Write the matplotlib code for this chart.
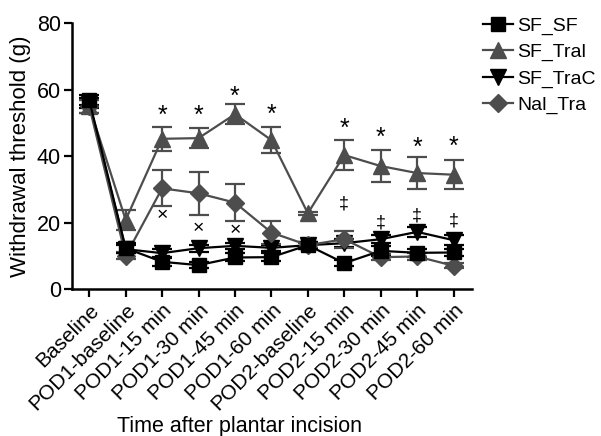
import matplotlib.pyplot as plt
import matplotlib.transforms as mtransforms
import numpy as np

plt.rcParams['font.family'] = ['Liberation Sans', 'DejaVu Sans']

labels = ['Baseline', 'POD1-baseline', 'POD1-15 min', 'POD1-30 min', 'POD1-45 min',
          'POD1-60 min', 'POD2-baseline', 'POD2-15 min', 'POD2-30 min', 'POD2-45 min',
          'POD2-60 min']

sf_sf = [56.8, 12.3, 8.2, 7.2, 9.5, 9.6, 13.2, 7.8, 11.5, 10.9, 11.0]
sf_sf_err = [1.5, 1.5, 1.2, 1.0, 1.2, 1.2, 1.0, 1.0, 1.5, 1.2, 1.2]

sf_tral = [55.0, 20.8, 45.2, 45.4, 52.6, 44.8, 22.8, 40.3, 37.0, 34.9, 34.4]
sf_tral_err = [2.0, 3.0, 3.6, 2.9, 3.0, 3.8, 0.5, 4.5, 4.8, 4.9, 4.4]

sf_trac = [56.0, 12.0, 10.8, 12.3, 13.0, 12.4, 13.2, 13.8, 15.0, 17.2, 14.7]
sf_trac_err = [1.5, 1.2, 1.2, 1.0, 1.0, 1.0, 1.0, 1.2, 1.2, 1.5, 1.5]

nal_tra = [55.0, 10.0, 30.3, 28.8, 26.0, 17.0, 13.2, 15.0, 9.6, 9.8, 7.0]
nal_tra_err = [2.0, 1.0, 5.4, 6.5, 5.5, 3.4, 0.8, 2.5, 1.0, 1.0, 0.8]

# significance marks
star_x = [2, 3, 4, 5, 7, 8, 9, 10]
star_y = [52.0, 52.0, 57.7, 52.3, 48.1, 45.4, 42.4, 42.7]
cross_x = [2, 3, 4]
cross_y = [22.0, 18.2, 17.6]
dagger_x = [7, 8, 9, 10]
dagger_y = [25.5, 20.0, 22.0, 20.6]

x = np.arange(len(labels))
fig = plt.figure(figsize=(6.01, 4.36), dpi=100)
ax = fig.add_axes([0.12, 0.337, 0.665, 0.61])

gray = '#4d4d4d'
kw = dict(linewidth=1.6, capsize=7, elinewidth=1.6, capthick=1.6)
e_tral = ax.errorbar(x, sf_tral, yerr=sf_tral_err, color=gray, marker='^', markersize=11, **kw)
e_trac = ax.errorbar(x, sf_trac, yerr=sf_trac_err, color='black', marker='v', markersize=11, **kw)
e_nal = ax.errorbar(x, nal_tra, yerr=nal_tra_err, color=gray, marker='D', markersize=9, **kw)
e_sf = ax.errorbar(x, sf_sf, yerr=sf_sf_err, color='black', marker='s', markersize=10, **kw)

for xi, yi in zip(star_x, star_y):
    ax.text(xi, yi, '*', ha='center', va='center', fontsize=18)
for xi, yi in zip(cross_x, cross_y):
    ax.text(xi, yi, '\u00d7', ha='center', va='center', fontsize=14)
for xi, yi in zip(dagger_x, dagger_y):
    ax.text(xi, yi, '\u2021', ha='center', va='center', fontsize=13)

ax.set_xlim(-0.47, 10.5)
ax.set_ylim(0, 80)
ax.set_yticks([0, 20, 40, 60, 80])
ax.set_xticks(x)
ax.set_xticklabels(labels, rotation=45, ha='right', va='center', rotation_mode='anchor')
ax.tick_params(axis='both', width=1.6, length=6)
ax.tick_params(axis='y', labelsize=15.5, pad=2)
ax.tick_params(axis='x', labelsize=15, pad=8)
shift = mtransforms.ScaledTranslation(5 / 72, 1 / 72, fig.dpi_scale_trans)
for lab in ax.get_xticklabels():
    lab.set_transform(lab.get_transform() + shift)
for s in ['top', 'right']:
    ax.spines[s].set_visible(False)
for s in ['left', 'bottom']:
    ax.spines[s].set_linewidth(1.8)
ax.set_ylabel('Withdrawal threshold (g)', fontsize=16, labelpad=4)
ax.set_xlabel('Time after plantar incision', fontsize=15.5)
ax.xaxis.set_label_coords(0.42, -0.477)

fig.legend([e_sf[0], e_tral[0], e_trac[0], e_nal[0]],
           ['SF_SF', 'SF_Tral', 'SF_TraC', 'Nal_Tra'],
           loc='upper left', bbox_to_anchor=(0.804, 0.961), frameon=False,
           fontsize=14, handlelength=1.55, handletextpad=0.2, labelspacing=0.45,
           borderaxespad=0, borderpad=0)

fig.savefig('out.png', dpi=100)
